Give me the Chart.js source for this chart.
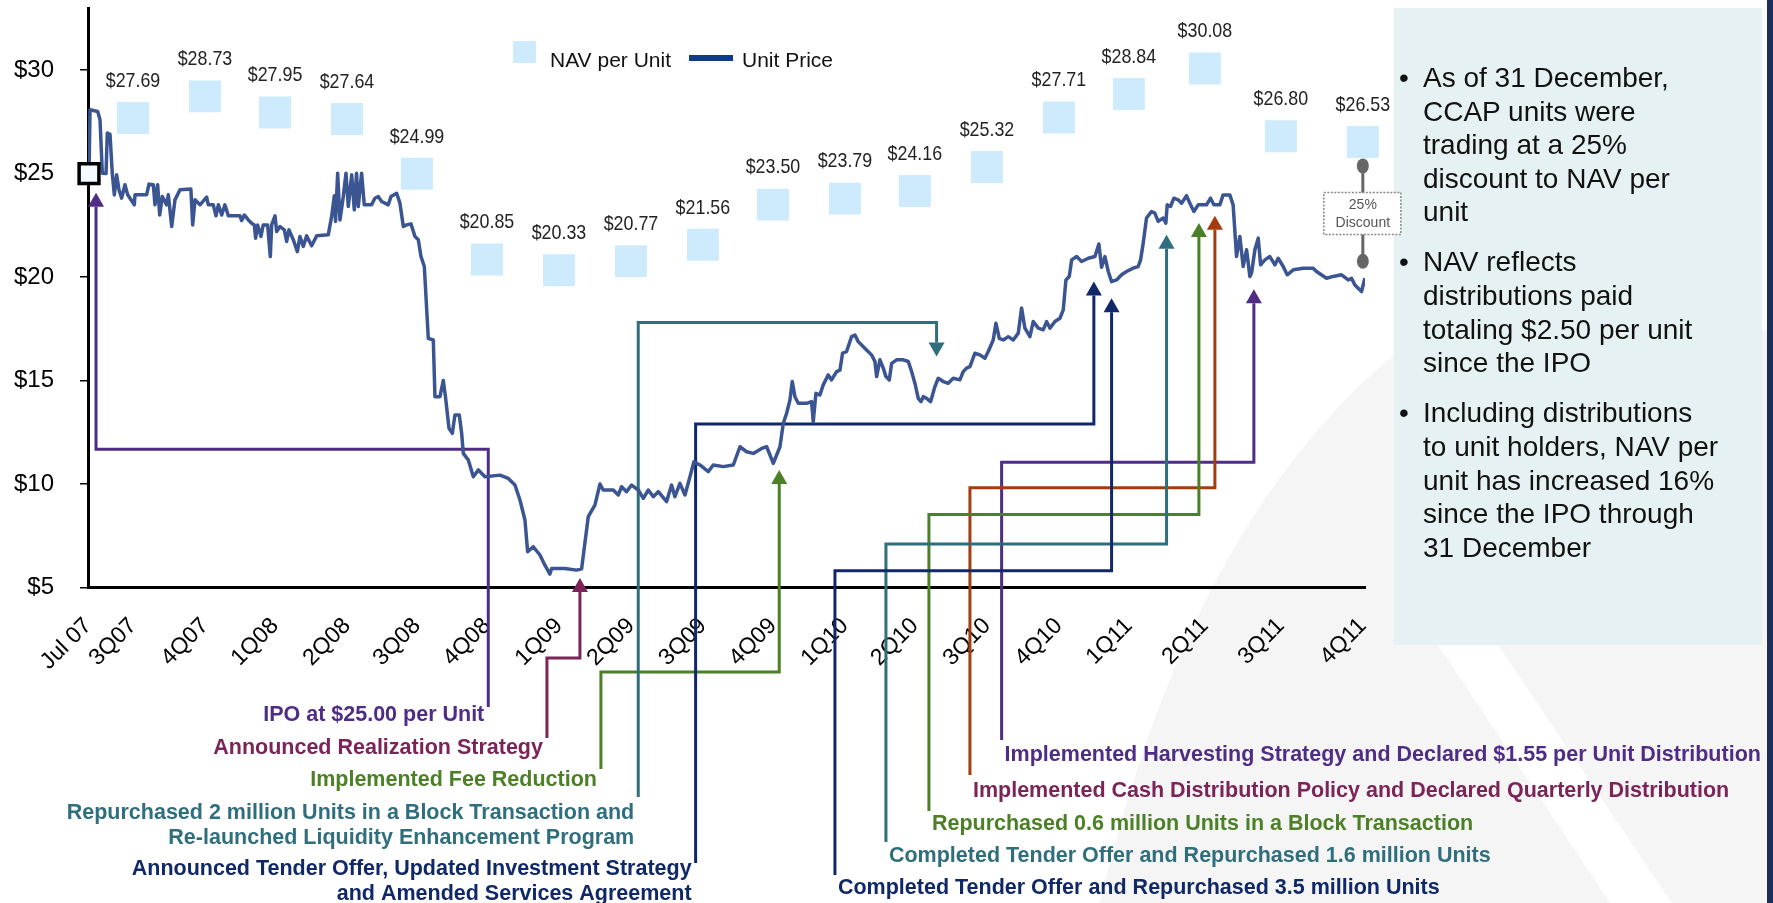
<!DOCTYPE html>
<html>
<head>
<meta charset="utf-8">
<title>CCAP Unit Price and NAV per Unit</title>
<script src="https://cdn.jsdelivr.net/npm/chart.js@4.4.1/dist/chart.umd.min.js"></script>
<style>
  html, body { margin: 0; padding: 0; background: #fff; }
  #wrap { position: relative; width: 1773px; height: 903px; overflow: hidden; }
  #chart { position: absolute; left: 0; top: 0; }
  #notes {
    position: absolute; left: 1423px; top: 61px;
    font: 28px/33.6px "Liberation Sans", Arial, sans-serif;
    color: #111; white-space: nowrap;
  }
  #notes p { margin: 0 0 16.5px 0; position: relative; }
  #notes p::before { content: '\2022'; position: absolute; left: -24px; }
</style>
</head>
<body>
<div id="wrap">
  <canvas id="chart" width="1773" height="903"></canvas>
  <div id="notes">
    <p>As of 31 December,<br>CCAP units were<br>trading at a 25%<br>discount to NAV per<br>unit</p>
    <p>NAV reflects<br>distributions paid<br>totaling $2.50 per unit<br>since the IPO</p>
    <p>Including distributions<br>to unit holders, NAV per<br>unit has increased 16%<br>since the IPO through<br>31 December</p>
  </div>
</div>
<script>
const FONT = '"Liberation Sans", Arial, sans-serif';

const tickQ = [-0.622, 0, 0.995, 1.963, 2.958, 3.925, 4.893, 5.888, 6.883, 7.878,
  8.846, 9.841, 10.808, 11.804, 12.799, 13.766, 14.817, 15.867, 17.0];
const tickLabels = ['Jul 07', '3Q07', '4Q07', '1Q08', '2Q08', '3Q08', '4Q08', '1Q09', '2Q09', '3Q09',
  '4Q09', '1Q10', '2Q10', '3Q10', '4Q10', '1Q11', '2Q11', '3Q11', '4Q11'];
const yTicks = [5, 10, 15, 20, 25, 30];

const navQ = [0, 0.995, 1.963, 2.958, 3.925, 4.893, 5.888, 6.883, 7.878,
  8.846, 9.841, 10.808, 11.804, 12.799, 13.766, 14.817, 15.867, 17.0];
const navValues = [27.69, 28.73, 27.95, 27.64, 24.99, 20.85, 20.33, 20.77, 21.56,
  23.50, 23.79, 24.16, 25.32, 27.71, 28.84, 30.08, 26.80, 26.53];

const ipoQ = -0.608;
const ipoPrice = 25.00;

const priceQ = [
  -0.608, -0.594, -0.488, -0.456, -0.424, -0.373, -0.355, -0.318, -0.286, -0.258,
  -0.226, -0.194, -0.157, -0.111, -0.074, 0.018, 0.028, 0.189, 0.221, 0.281,
  0.304, 0.341, 0.369, 0.405, 0.465, 0.488, 0.535, 0.58, 0.65, 0.80,
  0.825, 0.857, 0.926, 1.018, 1.041, 1.11, 1.147, 1.18, 1.226, 1.27,
  1.318, 1.479, 1.502, 1.539, 1.594, 1.64, 1.677, 1.695, 1.723, 1.769,
  1.80, 1.861, 1.898, 1.917, 1.963, 1.986, 2.032, 2.092, 2.124, 2.156,
  2.216, 2.272, 2.308, 2.354, 2.40, 2.469, 2.539, 2.699, 2.746, 2.783,
  2.80, 2.829, 2.861, 2.907, 2.944, 2.976, 3.023, 3.059, 3.09, 3.114,
  3.16, 3.197, 3.298, 3.344, 3.39, 3.437, 3.529, 3.566, 3.644, 3.69,
  3.737, 3.783, 3.842, 3.898, 3.944, 3.981, 4.027, 4.082, 4.151, 4.174,
  4.243, 4.289, 4.322, 4.368, 4.414, 4.45, 4.51, 4.543, 4.566, 4.635,
  4.704, 4.773, 4.865, 5.073, 5.188, 5.28, 5.349, 5.418, 5.455, 5.533,
  5.625, 5.694, 5.763, 5.787, 5.971, 6.132, 6.201, 6.293, 6.385, 6.455,
  6.5, 6.639, 6.708, 6.754, 6.823, 6.892, 6.985, 7.054, 7.123, 7.192,
  7.261, 7.376, 7.445, 7.491, 7.56, 7.63, 7.699, 7.754, 7.837, 7.952,
  8.021, 8.159, 8.298, 8.39, 8.482, 8.574, 8.69, 8.759, 8.851, 8.943,
  8.989, 9.035, 9.081, 9.113, 9.15, 9.196, 9.311, 9.38, 9.403, 9.44,
  9.495, 9.541, 9.61, 9.656, 9.726, 9.772, 9.808, 9.864, 9.933, 9.979,
  10.025, 10.071, 10.14, 10.209, 10.256, 10.279, 10.325, 10.371, 10.408, 10.454,
  10.487, 10.556, 10.648, 10.717, 10.763, 10.808, 10.855, 10.892, 10.924, 10.97,
  11.025, 11.085, 11.131, 11.2, 11.269, 11.338, 11.43, 11.476, 11.522, 11.569,
  11.638, 11.707, 11.776, 11.822, 11.891, 11.928, 11.975, 12.03, 12.099, 12.168,
  12.237, 12.283, 12.329, 12.398, 12.444, 12.513, 12.582, 12.629, 12.675, 12.744,
  12.813, 12.859, 12.896, 12.942, 12.975, 13.044, 13.113, 13.205, 13.297, 13.351,
  13.389, 13.435, 13.481, 13.527, 13.596, 13.665, 13.734, 13.826, 13.895, 13.928,
  13.964, 14.01, 14.079, 14.125, 14.171, 14.24, 14.277, 14.296, 14.342, 14.388,
  14.448, 14.494, 14.563, 14.609, 14.665, 14.724, 14.839, 14.895, 14.941, 15.023,
  15.069, 15.161, 15.207, 15.23, 15.254, 15.3, 15.346, 15.393, 15.439, 15.462,
  15.508, 15.554, 15.587, 15.646, 15.715, 15.785, 15.83, 15.899, 15.955, 16.038,
  16.176, 16.314, 16.36, 16.498, 16.59, 16.706, 16.798, 16.844, 16.89, 16.982,
  17.028
];
const priceVal = [
  25.0, 28.08, 28.0, 27.6, 25.02, 25.0, 26.96, 26.9, 25.0, 23.97,
  24.94, 24.22, 23.81, 24.46, 23.98, 23.49, 23.98, 23.98, 24.49, 24.46,
  23.49, 24.46, 23.0, 23.89, 23.49, 23.98, 22.44, 23.73, 24.22, 24.25,
  22.52, 23.73, 23.49, 23.86, 23.49, 23.49, 22.96, 23.49, 23.0, 23.49,
  22.96, 22.96, 22.73, 23.0, 22.76, 22.6, 22.52, 21.88, 22.52, 21.96,
  22.52, 22.52, 20.99, 22.52, 22.96, 22.2, 22.44, 22.28, 21.72, 22.28,
  21.8, 21.23, 21.96, 21.48, 21.99, 21.51, 21.99, 22.04, 22.93, 23.93,
  22.69, 25.02, 22.76, 23.89, 25.02, 23.41, 24.94, 23.25, 25.02, 23.41,
  25.02, 23.49, 23.49, 23.81, 23.89, 23.65, 23.49, 23.89, 24.05, 23.57,
  22.44, 22.52, 22.57, 21.96, 21.8, 20.99, 20.51, 17.04, 16.96, 14.22,
  14.22, 15.0, 14.14, 12.69, 12.45, 13.34, 13.34, 12.45, 11.48, 11.16,
  10.35, 10.68, 10.35, 10.43, 10.27, 9.95, 9.23, 8.26, 6.73, 6.97,
  6.57, 6.08, 5.65, 5.92, 5.92, 5.84, 5.9, 8.42, 8.98, 10.0,
  9.71, 9.71, 9.47, 9.87, 9.63, 9.95, 9.71, 9.31, 9.71, 9.39,
  9.63, 9.15, 9.95, 9.39, 10.03, 9.47, 10.35, 11.08, 10.92, 10.6,
  10.92, 10.84, 10.92, 11.8, 11.56, 11.48, 11.72, 11.8, 11.0, 11.8,
  12.93, 13.42, 14.06, 14.95, 14.22, 13.9, 13.9, 13.98, 13.01, 14.38,
  14.3, 14.79, 15.27, 15.03, 15.43, 15.5, 16.32, 16.4, 17.12, 17.2,
  16.88, 16.72, 16.48, 16.24, 15.92, 15.19, 16.0, 15.6, 15.19, 15.03,
  15.83, 16.0, 16.0, 15.92, 15.43, 14.87, 14.14, 13.98, 14.22, 14.14,
  13.98, 14.71, 15.11, 14.95, 14.87, 15.11, 15.03, 15.43, 15.6, 15.67,
  16.32, 16.24, 16.08, 16.4, 16.96, 17.77, 17.04, 16.96, 17.12, 16.96,
  17.29, 18.5, 17.53, 17.12, 17.85, 17.53, 17.45, 17.85, 17.53, 17.85,
  18.01, 18.41, 19.86, 20.03, 20.83, 20.99, 20.75, 20.91, 20.99, 21.6,
  20.47, 20.99, 20.27, 19.78, 19.86, 20.11, 20.27, 20.43, 20.51, 20.83,
  21.64, 22.85, 23.17, 23.09, 22.69, 22.85, 22.6, 23.49, 23.41, 23.81,
  23.73, 23.57, 23.93, 23.57, 23.17, 23.49, 23.49, 23.81, 23.49, 23.49,
  23.97, 23.97, 23.49, 22.28, 20.99, 21.96, 20.51, 21.32, 20.03, 20.2,
  21.32, 21.88, 20.59, 20.83, 20.99, 20.59, 20.91, 20.51, 20.11, 20.35,
  20.43, 20.43, 20.27, 19.94, 20.03, 20.11, 19.86, 19.94, 19.62, 19.3,
  19.94
];

// milestone call-outs: arrow at (tipQ, tipV), elbow at levelV, drop at dropQ down to the text row
const PURPLE = '#4F2C85', MAROON = '#7C2357', GREEN = '#4C8026', TEAL = '#2F6E7C', NAVY = '#102868', RUST = '#A53C0E';
const events = [
  { lines: ['IPO at $25.00 per Unit'], color: PURPLE, text: PURPLE,
    tipQ: -0.511, tipV: 24.07, levelV: 11.68, dropQ: 4.911, endY: 707, textY: 715, side: 'left' },
  { lines: ['Announced Realization Strategy'], color: MAROON, text: MAROON,
    tipQ: 6.178, tipV: 5.455, levelV: 1.59, dropQ: 5.722, endY: 738, textY: 748, side: 'left' },
  { lines: ['Implemented Fee Reduction'], color: GREEN, text: GREEN,
    tipQ: 8.933, tipV: 10.68, levelV: 0.92, dropQ: 6.468, endY: 769, textY: 780, side: 'left' },
  { lines: ['Repurchased 2 million Units in a Block Transaction and', 'Re-launched Liquidity Enhancement Program'],
    color: TEAL, text: TEAL, tipQ: 11.108, tipV: 16.16, levelV: 17.80, dropQ: 6.984, endY: 797, textY: 813, side: 'left' },
  { lines: ['Announced Tender Offer, Updated Investment Strategy', 'and Amended Services Agreement'],
    color: NAVY, text: NAVY, tipQ: 13.282, tipV: 19.78, levelV: 12.90, dropQ: 7.777, endY: 863, textY: 869, side: 'left' },
  { lines: ['Implemented Harvesting Strategy and Declared $1.55 per Unit Distribution'], color: PURPLE, text: PURPLE,
    tipQ: 15.494, tipV: 19.41, levelV: 11.05, dropQ: 12.007, endY: 740, textY: 755, side: 'right' },
  { lines: ['Implemented Cash Distribution Policy and Declared Quarterly Distribution'], color: RUST, text: MAROON,
    tipQ: 14.955, tipV: 22.96, levelV: 9.82, dropQ: 11.569, endY: 775, textY: 791, side: 'right' },
  { lines: ['Repurchased 0.6 million Units in a Block Transaction'], color: GREEN, text: GREEN,
    tipQ: 14.734, tipV: 22.61, levelV: 8.53, dropQ: 11.002, endY: 811, textY: 824, side: 'right' },
  { lines: ['Completed Tender Offer and Repurchased 1.6 million Units'], color: TEAL, text: TEAL,
    tipQ: 14.287, tipV: 22.04, levelV: 7.10, dropQ: 10.408, endY: 842, textY: 856, side: 'right' },
  { lines: ['Completed Tender Offer and Repurchased 3.5 million Units'], color: NAVY, text: NAVY,
    tipQ: 13.527, tipV: 18.98, levelV: 5.81, dropQ: 9.703, endY: 875, textY: 888, side: 'right' }
];

// page background: faint watermark shape, text panel and right edge strip
const backdrop = {
  id: 'backdrop',
  beforeDraw(chart) {
    const ctx = chart.ctx;
    ctx.save();
    ctx.fillStyle = '#fff';
    ctx.fillRect(0, 0, chart.width, chart.height);
    ctx.fillStyle = '#f5f5f5';
    ctx.beginPath();
    ctx.moveTo(1100, 903);
    ctx.quadraticCurveTo(1190, 520, 1400, 350);
    ctx.lineTo(1773, 330);
    ctx.lineTo(1773, 903);
    ctx.closePath();
    ctx.fill();
    ctx.fillStyle = '#fff';
    ctx.beginPath();
    ctx.moveTo(1438, 645);
    ctx.lineTo(1498, 645);
    ctx.lineTo(1672, 903);
    ctx.lineTo(1610, 903);
    ctx.closePath();
    ctx.fill();
    ctx.fillStyle = '#e6f1f3';
    ctx.fillRect(1394, 8, 368, 637);
    ctx.fillStyle = '#1d2d5a';
    ctx.fillRect(1767, 0, 6, 903);
    ctx.restore();
  }
};

// elbow lines and arrowheads, under the price line
const eventLines = {
  id: 'eventLines',
  beforeDatasetsDraw(chart) {
    const { ctx, scales: { x, y } } = chart;
    ctx.save();
    ctx.lineWidth = 3;
    ctx.lineJoin = 'miter';
    events.forEach(ev => {
      const ax = x.getPixelForValue(ev.tipQ);
      const tip = y.getPixelForValue(ev.tipV);
      const lev = y.getPixelForValue(ev.levelV);
      const dx = x.getPixelForValue(ev.dropQ);
      const down = lev < tip;
      const base = down ? tip - 14 : tip + 14;
      ctx.strokeStyle = ev.color;
      ctx.beginPath();
      ctx.moveTo(ax, base);
      ctx.lineTo(ax, lev);
      ctx.lineTo(dx, lev);
      ctx.lineTo(dx, ev.endY);
      ctx.stroke();
      ctx.fillStyle = ev.color;
      ctx.beginPath();
      ctx.moveTo(ax, tip);
      ctx.lineTo(ax - 8, base);
      ctx.lineTo(ax + 8, base);
      ctx.closePath();
      ctx.fill();
    });
    ctx.restore();
  }
};

// narrow-looking text: draw a larger font squeezed horizontally
function narrowText(ctx, text, px, py, squeeze) {
  ctx.save();
  ctx.translate(px, py);
  ctx.scale(squeeze, 1);
  ctx.fillText(text, 0, 0);
  ctx.restore();
}

const overlay = {
  id: 'overlay',
  afterDatasetsDraw(chart) {
    const { ctx, scales: { x, y } } = chart;
    ctx.save();
    // NAV value labels
    ctx.font = '21px ' + FONT;
    ctx.fillStyle = '#222';
    ctx.textAlign = 'center';
    ctx.textBaseline = 'middle';
    navQ.forEach((q, i) => {
      narrowText(ctx, '$' + navValues[i].toFixed(2), x.getPixelForValue(q), y.getPixelForValue(navValues[i]) - 37, 0.85);
    });

    // 25% discount marker between last NAV and last price
    const last = navQ.length - 1;
    const dx = x.getPixelForValue(navQ[last]);
    const top = y.getPixelForValue(navValues[last]) + 24;
    const bot = y.getPixelForValue(priceVal[priceVal.length - 1]) - 17;
    const mid = (top + bot) / 2;
    ctx.strokeStyle = '#666';
    ctx.fillStyle = '#666';
    ctx.lineWidth = 3;
    ctx.beginPath();
    ctx.moveTo(dx, top);
    ctx.lineTo(dx, bot);
    ctx.stroke();
    [top, bot].forEach(py => {
      ctx.beginPath();
      ctx.ellipse(dx, py, 6, 7.5, 0, 0, Math.PI * 2);
      ctx.fill();
    });
    ctx.fillStyle = '#fff';
    ctx.fillRect(dx - 39, mid - 21, 77, 42);
    ctx.setLineDash([2, 1.5]);
    ctx.lineWidth = 1.5;
    ctx.strokeStyle = '#888';
    ctx.strokeRect(dx - 39, mid - 21, 77, 42);
    ctx.setLineDash([]);
    ctx.fillStyle = '#555';
    ctx.font = '14px ' + FONT;
    ctx.fillText('25%', dx, mid - 8);
    ctx.fillText('Discount', dx, mid + 10);

    // legend
    ctx.fillStyle = '#cdebfc';
    ctx.fillRect(513, 41, 23, 22);
    ctx.fillStyle = '#111';
    ctx.font = '21px ' + FONT;
    ctx.textAlign = 'left';
    ctx.fillText('NAV per Unit', 550, 61);
    ctx.strokeStyle = '#0e3c87';
    ctx.lineWidth = 6;
    ctx.beginPath();
    ctx.moveTo(689, 58);
    ctx.lineTo(733, 58);
    ctx.stroke();
    ctx.fillText('Unit Price', 742, 61);
    ctx.restore();
  },
  afterDraw(chart) {
    const { ctx, scales: { x } } = chart;
    ctx.save();
    ctx.font = 'bold 21.5px ' + FONT;
    ctx.textBaseline = 'middle';
    events.forEach(ev => {
      const dx = x.getPixelForValue(ev.dropQ);
      ctx.fillStyle = ev.text;
      ctx.textAlign = ev.side === 'left' ? 'right' : 'left';
      const tx = ev.side === 'left' ? dx - 4 : dx + 3;
      ev.lines.forEach((line, i) => ctx.fillText(line, tx, ev.textY + i * 25));
    });
    ctx.restore();
  }
};

new Chart(document.getElementById('chart').getContext('2d'), {
  type: 'line',
  data: {
    datasets: [
      {
        label: 'IPO',
        data: [{ x: ipoQ, y: ipoPrice }],
        showLine: false,
        pointStyle: 'rect',
        pointRadius: 14,
        pointBackgroundColor: '#f4fbff',
        pointBorderColor: '#000',
        pointBorderWidth: 3.5,
        clip: false
      },
      {
        label: 'Unit Price',
        data: priceQ.map((q, i) => ({ x: q, y: priceVal[i] })),
        borderColor: '#3b5592',
        borderWidth: 3.5,
        borderJoinStyle: 'round',
        pointRadius: 0,
        tension: 0,
        fill: false
      },
      {
        label: 'NAV per Unit',
        data: navQ.map((q, i) => ({ x: q, y: navValues[i] })),
        showLine: false,
        pointStyle: 'rect',
        pointRadius: 22.6,
        pointBackgroundColor: '#cdebfc',
        pointBorderWidth: 0,
        clip: false
      }
    ]
  },
  options: {
    responsive: false,
    animation: false,
    devicePixelRatio: 1,
    layout: { autoPadding: false, padding: { left: 0, right: 408, top: 8, bottom: 0 } },
    plugins: { legend: { display: false }, tooltip: { enabled: false } },
    scales: {
      x: {
        type: 'linear',
        min: -0.622,
        max: 17.03,
        afterFit: s => { s.height = 315.5; s.paddingLeft = 0; s.paddingRight = 0; },
        afterBuildTicks: s => { s.ticks = tickQ.map(v => ({ value: v })); },
        grid: { display: false, drawTicks: false },
        border: { display: true, color: '#000', width: 3 },
        ticks: {
          autoSkip: false,
          minRotation: 45,
          maxRotation: 45,
          padding: 25,
          color: '#000',
          font: { size: 23, family: FONT },
          callback: (v, i) => tickLabels[i]
        }
      },
      y: {
        min: 5,
        max: 33,
        afterFit: s => { s.width = 88; s.paddingTop = 0; s.paddingBottom = 0; },
        afterBuildTicks: s => { s.ticks = yTicks.map(v => ({ value: v })); },
        grid: { drawOnChartArea: false, drawTicks: true, tickLength: 8, color: '#000', lineWidth: 1.5 },
        border: { color: '#000', width: 3 },
        ticks: {
          padding: 26,
          color: '#000',
          font: { size: 24, family: FONT },
          callback: v => '$' + v
        }
      }
    }
  },
  plugins: [backdrop, eventLines, overlay]
});
</script>
</body>
</html>
